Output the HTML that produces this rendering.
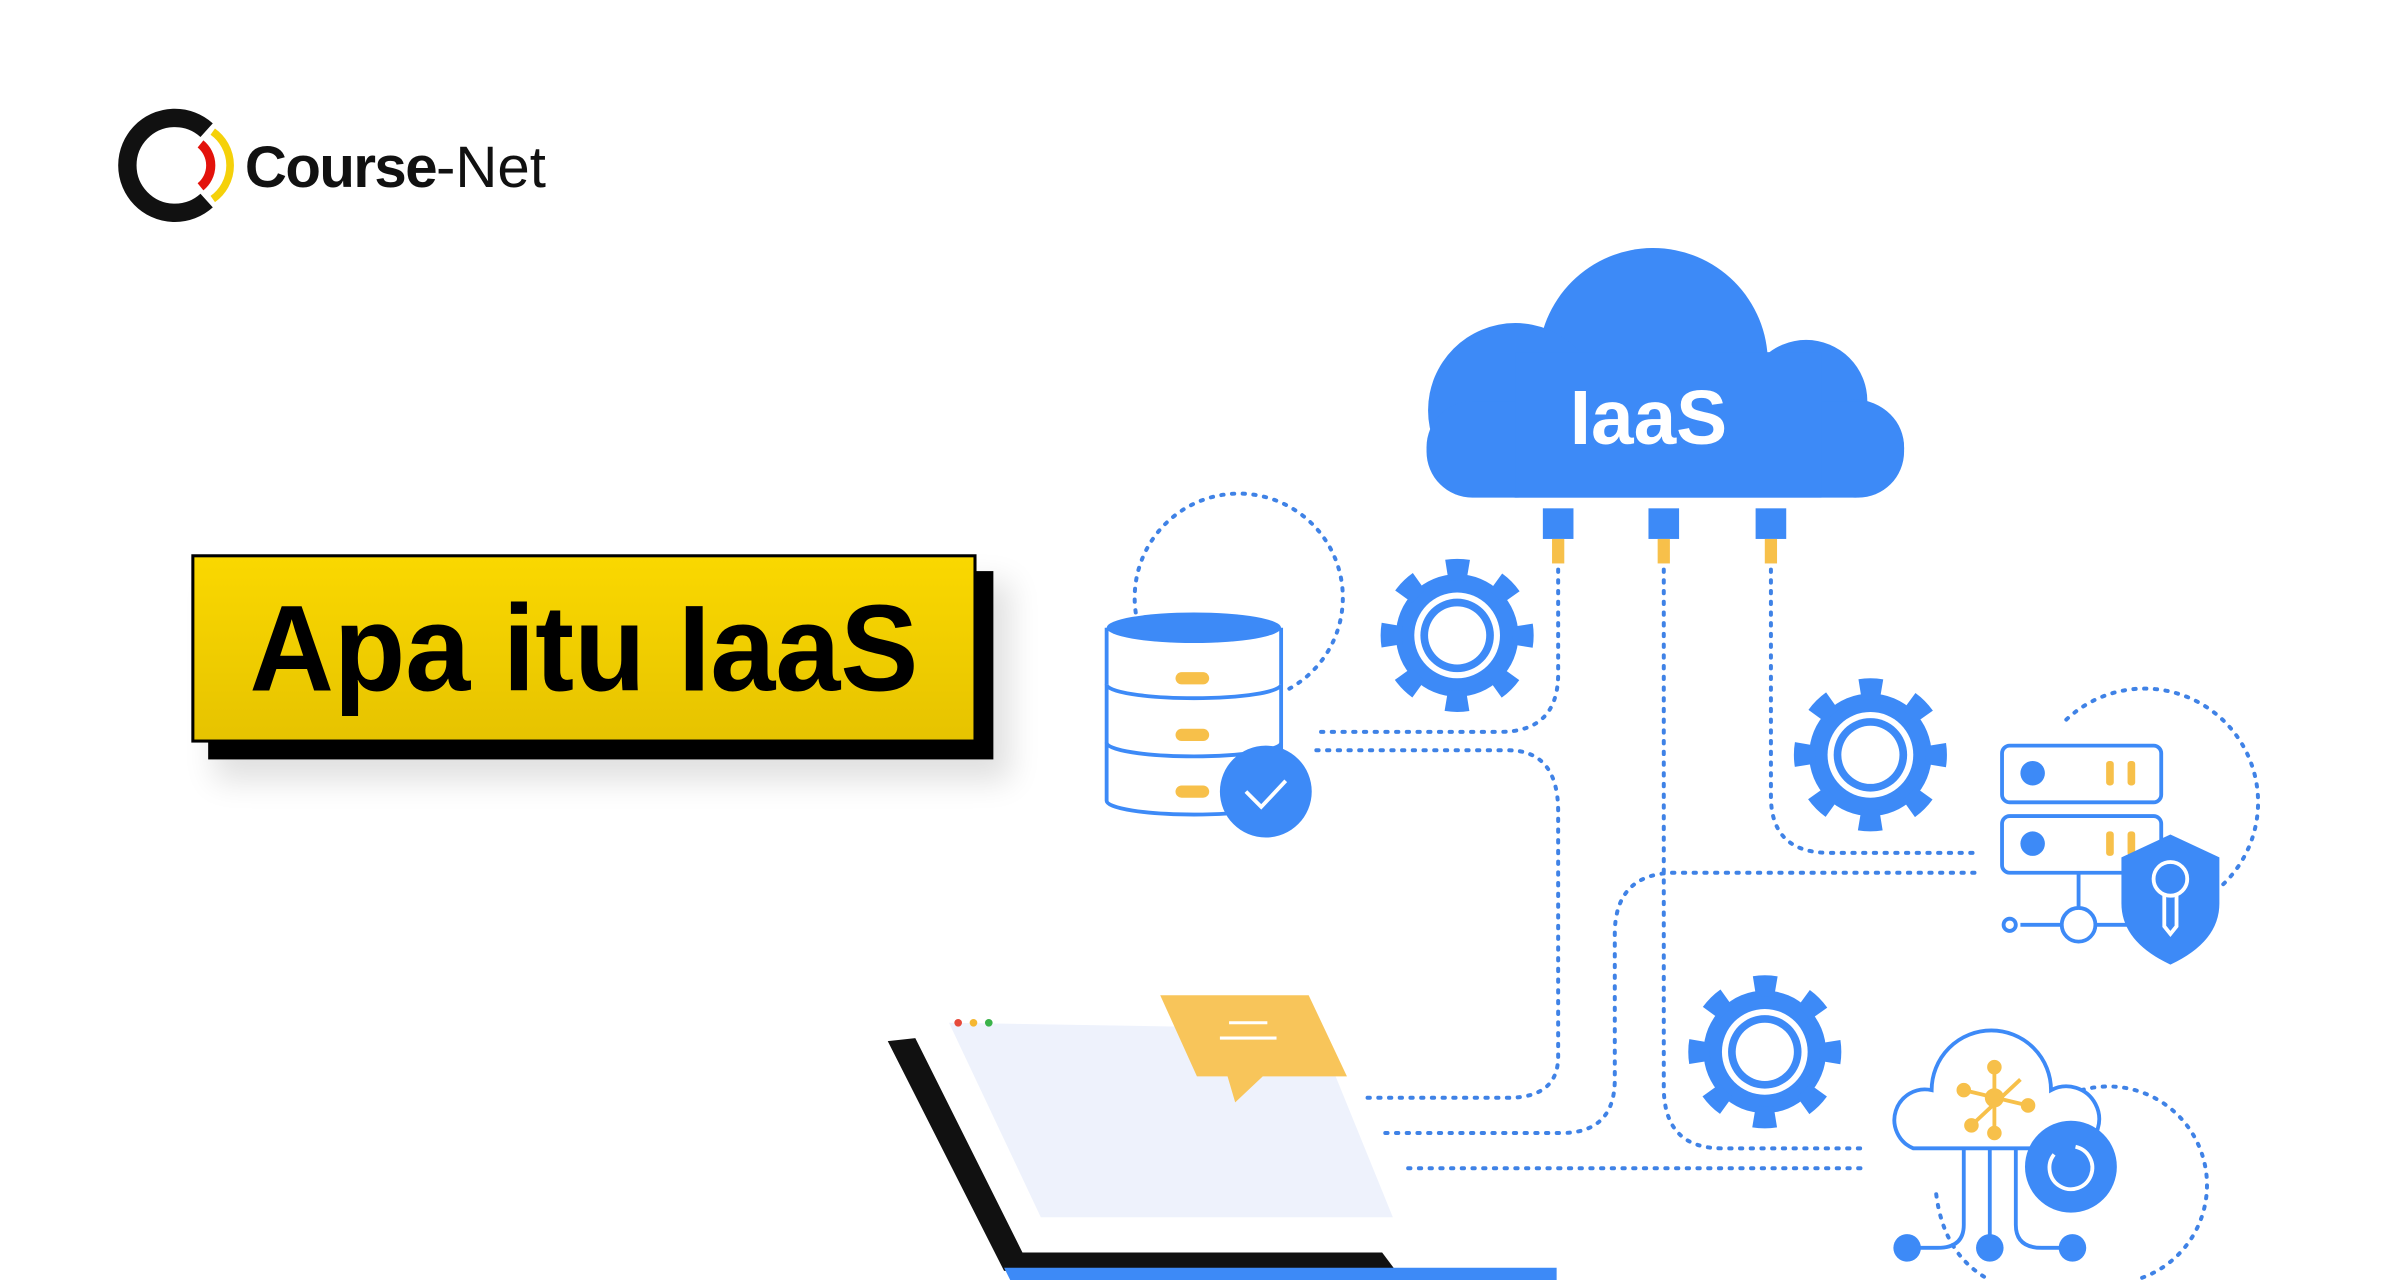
<!DOCTYPE html>
<html><head><meta charset="utf-8"><style>
html,body{margin:0;padding:0;background:#fff;width:2400px;height:1280px;overflow:hidden}
svg{display:block}
</style></head><body>
<svg width="2400" height="1280" viewBox="0 0 1568 836" preserveAspectRatio="none" xmlns="http://www.w3.org/2000/svg">
<defs>
<linearGradient id="yg" x1="0" y1="0" x2="0" y2="1"><stop offset="0" stop-color="#fad800"/><stop offset="1" stop-color="#e6c300"/></linearGradient>
<filter id="sh" x="-20%" y="-20%" width="140%" height="160%"><feGaussianBlur stdDeviation="10"/></filter>
<g id="gear">
<circle r="40" fill="#3d8af7"/>
<circle r="43" fill="none" stroke="#3d8af7" stroke-width="14" stroke-dasharray="14 19.8" stroke-dashoffset="7"/>
<circle r="28" fill="#fff"/>
<circle r="24" fill="#3d8af7"/>
<circle r="19" fill="#fff"/>
</g>
</defs>
<rect width="1568" height="836" fill="#fff"/>

<!-- logo -->
<path d="M135 85 A31 31 0 1 0 135 131" fill="none" stroke="#111" stroke-width="12"/>
<path d="M131 94 A18 18 0 0 1 131 122" fill="none" stroke="#e3120b" stroke-width="6"/>
<path d="M139 86 A27 27 0 0 1 139 130" fill="none" stroke="#f5d10a" stroke-width="5"/>
<text x="160" y="122" font-family="Liberation Sans, sans-serif" font-size="38" fill="#111"><tspan font-weight="bold" letter-spacing="-1">Course</tspan><tspan>-Net</tspan></text>

<!-- title box -->
<rect x="140" y="380" width="520" height="130" fill="#000" opacity="0.12" filter="url(#sh)"/>
<rect x="136" y="373" width="513" height="123" fill="#000"/>
<rect x="126" y="363" width="511" height="121" fill="url(#yg)" stroke="#000" stroke-width="2"/>
<text x="163" y="451" font-family="Liberation Sans, sans-serif" font-size="80" font-weight="bold" textLength="437" lengthAdjust="spacingAndGlyphs" fill="#000">Apa itu IaaS</text>

<!-- dotted lines -->
<g fill="none" stroke="#3f82e6" stroke-width="2.6" stroke-dasharray="1.5 5.5" stroke-linecap="round">
<path d="M1018 372 V440 Q1018 478 980 478 H860"/>
<path d="M860 490 H985 Q1018 490 1018 530 V690 Q1018 717 985 717 H893"/>
<path d="M1087 372 V710 Q1087 750 1125 750 H1220"/>
<path d="M1290 570 H1095 Q1055 570 1055 610 V705 Q1055 740 1020 740 H905"/>
<path d="M920 763 H1220"/>
<path d="M1157 372 V520 Q1157 557 1195 557 H1290"/>
<path d="M742 400 A68 68 0 1 1 842 450"/>
<path d="M1350 470 A70 70 0 0 1 1452 578"/>
<path d="M1360 712 A58 58 0 0 1 1395 836"/>
<path d="M1265 780 Q1270 820 1300 836"/>
</g>

<!-- cloud -->
<g fill="#3d8af7">
<circle cx="1080" cy="237" r="75"/>
<circle cx="990" cy="268" r="57"/>
<circle cx="1180" cy="262" r="40"/>
<circle cx="1212" cy="293" r="32"/>
<rect x="932" y="262" width="312" height="63" rx="30"/>
<rect x="990" y="230" width="200" height="95"/>
</g>
<text x="1077" y="290" text-anchor="middle" font-family="Liberation Sans, sans-serif" font-size="50" font-weight="bold" fill="#fff">IaaS</text>
<g fill="#3d8af7"><rect x="1008" y="332" width="20" height="20"/><rect x="1077" y="332" width="20" height="20"/><rect x="1147" y="332" width="20" height="20"/></g>
<g fill="#f7c04a"><rect x="1014" y="352" width="8" height="16"/><rect x="1083" y="352" width="8" height="16"/><rect x="1153" y="352" width="8" height="16"/></g>

<!-- gears -->
<use href="#gear" x="952" y="415"/>
<use href="#gear" x="1222" y="493"/>
<use href="#gear" x="1153" y="687"/>

<!-- database -->
<g fill="#fff" stroke="#3d8af7" stroke-width="2.5">
<path d="M723 410 V523 A57 9 0 0 0 837 523 V410"/>
<path d="M723 447 A57 9 0 0 0 837 447"/>
<path d="M723 485 A57 9 0 0 0 837 485" fill="none"/>
</g>
<ellipse cx="780" cy="410" rx="57" ry="10" fill="#3d8af7"/>
<g fill="#f7c04a"><rect x="768" y="439" width="22" height="8" rx="4"/><rect x="768" y="476" width="22" height="8" rx="4"/><rect x="768" y="513" width="22" height="8" rx="4"/></g>
<circle cx="827" cy="517" r="30" fill="#3d8af7"/>
<path d="M814 517 L824 527 L840 510" fill="none" stroke="#fff" stroke-width="2.5"/>

<!-- server -->
<g fill="#fff" stroke="#3d8af7" stroke-width="2.5">
<rect x="1308" y="487" width="104" height="37" rx="5"/>
<rect x="1308" y="533" width="104" height="37" rx="5"/>
<line x1="1358" y1="570" x2="1358" y2="592"/>
<line x1="1320" y1="604" x2="1395" y2="604"/>
<circle cx="1358" cy="604" r="11"/>
<circle cx="1313" cy="604" r="4"/>
</g>
<g fill="#3d8af7"><circle cx="1328" cy="505" r="8"/><circle cx="1328" cy="551" r="8"/></g>
<g fill="#f7c04a"><rect x="1376" y="497" width="5" height="16" rx="2"/><rect x="1390" y="497" width="5" height="16" rx="2"/><rect x="1376" y="543" width="5" height="16" rx="2"/><rect x="1390" y="543" width="5" height="16" rx="2"/></g>
<path d="M1418 545 L1450 560 V590 Q1450 615 1418 630 Q1386 615 1386 590 V560 Z" fill="#3d8af7"/>
<circle cx="1418" cy="574" r="11" fill="none" stroke="#fff" stroke-width="2.5"/>
<path d="M1414 584 V605 L1418 610 L1422 605 V584" fill="none" stroke="#fff" stroke-width="2.5"/>

<!-- bottom right cloud -->
<g fill="#fff" stroke="#3d8af7" stroke-width="2.5">
<path d="M1250 750 A20 20 0 0 1 1262 712 A38 38 0 0 1 1340 712 A20 20 0 0 1 1360 750 Z"/>
</g>
<g fill="none" stroke="#3d8af7" stroke-width="2.5">
<path d="M1283 750 V800 Q1283 815 1266 815 H1250"/>
<path d="M1300 750 V815"/>
<path d="M1317 750 V800 Q1317 815 1334 815 H1350"/>
</g>
<g fill="#3d8af7"><circle cx="1246" cy="815" r="9"/><circle cx="1300" cy="815" r="9"/><circle cx="1354" cy="815" r="9"/></g>
<g stroke="#f7c04a" stroke-width="2.5" fill="#f7c04a">
<line x1="1303" y1="697" x2="1303" y2="740"/><line x1="1283" y1="712" x2="1325" y2="722"/><line x1="1288" y1="735" x2="1320" y2="705"/>
<circle cx="1303" cy="697" r="3.5"/><circle cx="1303" cy="740" r="3.5"/><circle cx="1283" cy="712" r="3.5"/><circle cx="1325" cy="722" r="3.5"/><circle cx="1288" cy="735" r="3.5"/><circle cx="1303" cy="717" r="5"/>
</g>
<circle cx="1353" cy="762" r="30" fill="#3d8af7"/>
<path d="M1342 754 A14 14 0 1 0 1356 749" fill="none" stroke="#fff" stroke-width="2.5"/>

<!-- laptop -->
<polygon points="620,668 860,672 910,795 680,795" fill="#eef2fc"/>
<polygon points="580,680 598,678 668,818 903,818 912,830 656,830" fill="#111"/>
<polygon points="656,828 1017,828 1017,836 660,836" fill="#3d8af7"/>
<circle cx="626" cy="668" r="2.5" fill="#e64a3b"/><circle cx="636" cy="668" r="2.5" fill="#f5b731"/><circle cx="646" cy="668" r="2.5" fill="#3bb34a"/>
<polygon points="758,650 855,650 880,703 825,703 807,720 802,703 782,703" fill="#f8c55a"/>
<g stroke="#fff" stroke-width="2"><line x1="803" y1="668" x2="828" y2="668"/><line x1="797" y1="678" x2="834" y2="678"/></g>
</svg>
</body></html>
